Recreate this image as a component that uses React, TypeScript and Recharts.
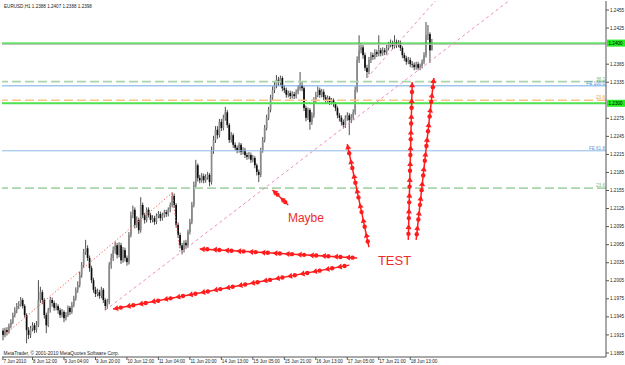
import React from 'react';
import { ComposedChart, Bar, XAxis, YAxis, ReferenceLine, ReferenceDot } from 'recharts';

// EURUSD H1, 7-18 Jun 2010, prices in pips (1/10000)
const FIRST_OPEN = 11922;
const closes = [
  11915, 11923, 11920, 11930, 11936, 11948, 11956, 11963, 11966, 11973,
  11963, 11948, 11923, 11915, 11926, 11931, 11923, 11931, 11973, 11986,
  11973, 11948, 11931, 11956, 11973, 11968, 11960, 11963, 11956, 11948,
  11953, 11943, 11948, 11960, 11953, 11965, 11976, 11990, 11998, 12015,
  12031, 12053, 12059, 12043, 12026, 12006, 11990, 11983, 11986, 11980,
  11990, 11973, 11963, 11970, 12031, 12043, 12056, 12064, 12048, 12064,
  12039, 12056, 12043, 12036, 12081, 12114, 12123, 12098, 12106, 12089,
  12131, 12114, 12106, 12123, 12114, 12106, 12109, 12103, 12113, 12116,
  12109, 12114, 12119, 12116, 12123, 12131, 12146, 12131, 12098, 12081,
  12064, 12056, 12068, 12064, 12086, 12103, 12131, 12164, 12197, 12176,
  12172, 12179, 12172, 12177, 12181, 12169, 12222, 12239, 12256, 12247,
  12269, 12259, 12276, 12285, 12264, 12239, 12247, 12231, 12226, 12222,
  12231, 12219, 12222, 12214, 12211, 12214, 12206, 12209, 12197, 12186,
  12181, 12222, 12239, 12259, 12276, 12289, 12309, 12322, 12330, 12339,
  12335, 12342, 12325, 12322, 12314, 12317, 12312, 12315, 12312, 12319,
  12325, 12330, 12325, 12292, 12276, 12289, 12269, 12280, 12305, 12314,
  12322, 12314, 12319, 12310, 12305, 12309, 12302, 12305, 12299, 12292,
  12280, 12276, 12269, 12264, 12276, 12280, 12272, 12277, 12285, 12322,
  12372, 12388, 12393, 12380, 12359, 12352, 12372, 12380, 12377, 12385,
  12382, 12388, 12383, 12388, 12385, 12392, 12397, 12400, 12395, 12402,
  12397, 12400, 12392, 12380, 12375, 12369, 12372, 12365, 12364, 12360,
  12365, 12359, 12362, 12369, 12380, 12413, 12415, 12388, 12398,
];
const highs = [
  11926, 11927, 11928, 11934, 11941, 11952, 11961, 11968, 11971, 11978,
  11976, 11966, 11951, 11928, 11930, 11936, 11935, 11938, 12006, 11995,
  11990, 11976, 11952, 11960, 11978, 11977, 11972, 11968, 11966, 11960,
  11958, 11956, 11953, 11964, 11963, 11970, 11980, 11994, 12004, 12020,
  12036, 12058, 12073, 12064, 12047, 12030, 12010, 11995, 11992, 11990,
  11995, 11993, 11976, 11975, 12036, 12050, 12062, 12070, 12068, 12069,
  12068, 12061, 12060, 12047, 12086, 12120, 12130, 12127, 12112, 12110,
  12144, 12135, 12118, 12127, 12127, 12118, 12114, 12113, 12117, 12121,
  12120, 12118, 12123, 12123, 12127, 12135, 12152, 12150, 12134, 12102,
  12085, 12068, 12072, 12073, 12090, 12108, 12136, 12170, 12206, 12200,
  12181, 12184, 12183, 12182, 12186, 12184, 12228, 12246, 12262, 12262,
  12274, 12274, 12281, 12294, 12289, 12267, 12252, 12250, 12235, 12230,
  12235, 12234, 12227, 12226, 12218, 12219, 12218, 12214, 12212, 12200,
  12190, 12226, 12244, 12264, 12281, 12294, 12314, 12328, 12336, 12347,
  12344, 12346, 12345, 12330, 12326, 12321, 12321, 12320, 12319, 12323,
  12330, 12352, 12336, 12328, 12296, 12293, 12292, 12285, 12310, 12319,
  12328, 12326, 12324, 12323, 12314, 12313, 12312, 12309, 12308, 12302,
  12295, 12284, 12280, 12273, 12280, 12285, 12284, 12282, 12290, 12328,
  12378, 12413, 12400, 12397, 12384, 12364, 12377, 12385, 12384, 12390,
  12389, 12413, 12392, 12393, 12392, 12397, 12402, 12406, 12404, 12413,
  12406, 12405, 12404, 12395, 12384, 12379, 12377, 12376, 12370, 12368,
  12369, 12369, 12366, 12373, 12385, 12435, 12430, 12418, 12407,
];
const lows = [
  11906, 11911, 11914, 11917, 11926, 11933, 11944, 11951, 11958, 11962,
  11959, 11944, 11901, 11908, 11910, 11921, 11918, 11919, 11928, 11968,
  11966, 11942, 11918, 11928, 11952, 11962, 11955, 11956, 11950, 11943,
  11944, 11936, 11939, 11945, 11948, 11950, 11961, 11972, 11985, 11994,
  12010, 12027, 12048, 12038, 12020, 12001, 11985, 11978, 11979, 11975,
  11976, 11968, 11956, 11958, 11966, 12025, 12038, 12050, 12042, 12044,
  12033, 12035, 12037, 12030, 12032, 12077, 12109, 12092, 12093, 12083,
  12085, 12109, 12100, 12102, 12110, 12101, 12102, 12098, 12099, 12109,
  12104, 12105, 12110, 12111, 12112, 12119, 12127, 12126, 12093, 12076,
  12059, 12049, 12052, 12058, 12060, 12082, 12099, 12127, 12160, 12170,
  12167, 12168, 12167, 12168, 12173, 12162, 12165, 12216, 12234, 12241,
  12243, 12254, 12255, 12271, 12259, 12234, 12235, 12226, 12221, 12217,
  12218, 12214, 12215, 12209, 12206, 12207, 12201, 12202, 12192, 12180,
  12169, 12177, 12218, 12235, 12255, 12272, 12285, 12305, 12317, 12325,
  12329, 12330, 12320, 12317, 12309, 12310, 12307, 12308, 12307, 12308,
  12315, 12321, 12320, 12287, 12270, 12272, 12256, 12264, 12276, 12301,
  12310, 12309, 12310, 12305, 12300, 12301, 12297, 12298, 12294, 12287,
  12275, 12270, 12263, 12258, 12259, 12271, 12247, 12267, 12272, 12281,
  12318, 12367, 12383, 12374, 12354, 12342, 12348, 12367, 12372, 12373,
  12377, 12378, 12378, 12379, 12380, 12381, 12388, 12393, 12390, 12391,
  12392, 12393, 12387, 12375, 12370, 12364, 12365, 12360, 12359, 12355,
  12356, 12355, 12355, 12358, 12365, 12376, 12405, 12367, 12388,
];
const SLOTS = 307; // visible bar slots incl. empty space on the right

const timeTicks = [0, 15, 31, 47, 63, 79, 95, 111, 127, 143, 159, 175, 191, 207];
const timeLabels = [
  '7 Jun 2010', '8 Jun 12:00', '9 Jun 04:00', '9 Jun 20:00', '10 Jun 12:00', '11 Jun 04:00',
  '11 Jun 20:00', '14 Jun 13:00', '15 Jun 05:00', '15 Jun 21:00', '16 Jun 13:00',
  '17 Jun 05:00', '17 Jun 21:00', '18 Jun 13:00',
];
// 1.2395 and 1.2305 sit under the price boxes, so they are not shown
const priceTicks = [
  1.2455, 1.2425, 1.2365, 1.2335, 1.2275, 1.2245, 1.2215, 1.2185,
  1.2155, 1.2125, 1.2095, 1.2065, 1.2035, 1.2005, 1.1975, 1.1945, 1.1915, 1.1885,
];

// horizontal levels
const levelPrices = [1.24, 1.2398, 1.2336, 1.2329, 1.2305, 1.23, 1.2221, 1.2159];
const levelNames = ['', '', '38.2', 'FE 100.0', '23.6', '', 'FE 61.8', '23.6'];
const levelBoxes = ['1.2400', '', '', '', '', '1.2300', '', ''];
const LEVEL_STYLE = [
  { stroke: '#22dd22', w: 1.2, dash: undefined, text: '' },
  { stroke: '#b8b8b8', w: 1, dash: undefined, text: '' },
  { stroke: '#a9d6a9', w: 1.6, dash: '9 4', text: '#78bb78' },
  { stroke: '#71aae6', w: 1, dash: undefined, text: '#4f8fd6' },
  { stroke: '#f7c486', w: 1.6, dash: '9 4', text: '#f0a040' },
  { stroke: '#4fe04f', w: 2, dash: undefined, text: '' },
  { stroke: '#8cb9e8', w: 1, dash: undefined, text: '#5f96d8' },
  { stroke: '#a9d6a9', w: 1.6, dash: '9 4', text: '#78bb78' },
];

// trend lines: [start, end] bar index and price
const trendIdx = [[52, 257], [185, 220], [0, 86], [86, 90]];
const trendPrice = [[1.1956, 1.247], [1.2342, 1.2471], [1.1913, 1.2151], [1.2151, 1.2051]];
const TREND_STYLE = [
  { stroke: '#f088c8', dash: '3 3' },
  { stroke: '#f088c8', dash: '3 3' },
  { stroke: '#ff6a6a', dash: '1.4 2' },
  { stroke: '#ff6a6a', dash: '1.4 2' },
];

// red arrow chains: tail -> head
const chainTailIdx = [180, 176, 186, 206, 210, 145];
const chainTailPrice = [1.2043, 1.2031, 1.2061, 1.2073, 1.2073, 1.2131];
const chainHeadIdx = [100, 56, 175, 208, 219, 137];
const chainHeadPrice = [1.2058, 1.1958, 1.2232, 1.2335, 1.2342, 1.2156];
const CHAIN_STEP = [12.5, 12.5, 15, 15.5, 15.5, 11];

const notes = ['Maybe', 'TEST'];
const noteIdx = [154, 199];
const notePrice = [1.2109, 1.2038];

const RED = '#ff1c1c';
const FONT = '"Liberation Sans", Arial, sans-serif';
const px = (v: number) => v / 10000;

const rows = Array.from({ length: SLOTS }, (_, i) => {
  if (i >= closes.length) return { i, range: null };
  const o = i === 0 ? FIRST_OPEN : closes[i - 1];
  return { i, o: px(o), h: px(highs[i]), l: px(lows[i]), c: px(closes[i]), range: [px(lows[i]), px(highs[i])] };
});

function Candle(props: any) {
  const { x, y, width, height, payload } = props;
  if (!payload || payload.o == null || !isFinite(y)) return <g />;
  const { o, h, l, c } = payload;
  const top = Math.min(y, y + height);
  const bot = Math.max(y, y + height);
  const yOf = (p: number) => (h === l ? top : top + ((h - p) / (h - l)) * (bot - top));
  const cx = x + width / 2;
  const y1 = yOf(Math.max(o, c));
  const y2 = yOf(Math.min(o, c));
  return (
    <g>
      <line x1={cx} x2={cx} y1={top} y2={bot} stroke="#3a3a3a" strokeWidth={0.9} />
      <rect x={cx - 0.85} y={y1} width={1.7} height={Math.max(0.6, y2 - y1)} fill={c >= o ? '#8a8a8a' : '#0c0c0c'} />
    </g>
  );
}

function PriceTick({ x, y, payload }: any) {
  return (
    <text x={x} y={y + 1.6} fontSize={4.6} fill="#222" fontFamily={FONT}>
      {Number(payload.value).toFixed(4)}
    </text>
  );
}

function TimeTick({ x, y, payload }: any) {
  const k = timeTicks.indexOf(payload.value);
  return (
    <text x={x + 0.5} y={y + 3.3} fontSize={4.6} fill="#222" fontFamily={FONT}>
      {timeLabels[k]}
    </text>
  );
}

function levelLabel(k: number) {
  return (p: any) => {
    const vb = p.viewBox || {};
    const right = (vb.x || 0) + (vb.width || 0);
    const y = vb.y || 0;
    return (
      <g>
        {levelNames[k] && (
          <text x={right - 1} y={y - 1} fontSize={4.6} textAnchor="end" fill={LEVEL_STYLE[k].text} fontFamily={FONT}>
            {levelNames[k]}
          </text>
        )}
        {levelBoxes[k] && (
          <g>
            <rect x={right + 1} y={y - 3.5} width={18} height={7} fill="#22ee22" />
            <text x={right + 2.5} y={y + 1.6} fontSize={4.6} fill="#000" fontFamily={FONT}>{levelBoxes[k]}</text>
          </g>
        )}
      </g>
    );
  };
}

function chainShape(step: number) {
  return (p: any) => {
    const { x1, y1, x2, y2 } = p;
    const dx = x2 - x1;
    const dy = y2 - y1;
    const len = Math.hypot(dx, dy) || 1;
    const ux = dx / len;
    const uy = dy / len;
    const nx = -uy;
    const ny = ux;
    const n = Math.max(1, Math.round(len / step));
    const s = len / n;
    const parts: any[] = [];
    for (let k = 0; k < n; k++) {
      const tx = x2 - ux * s * k;
      const ty = y2 - uy * s * k;
      const bx = tx - ux * 5;
      const by = ty - uy * 5;
      parts.push(
        <polygon key={'a' + k} fill={RED}
          points={`${tx},${ty} ${bx + nx * 3},${by + ny * 3} ${bx - nx * 3},${by - ny * 3}`} />,
      );
      parts.push(<circle key={'d' + k} cx={tx - ux * s * 0.62} cy={ty - uy * s * 0.62} r={2.2} fill={RED} />);
    }
    return (
      <g>
        <line x1={x1} y1={y1} x2={x2} y2={y2} stroke={RED} strokeWidth={1.5} />
        {parts}
      </g>
    );
  };
}

function noteShape(k: number) {
  return (p: any) => (
    <text x={p.cx} y={p.cy} textAnchor="middle" dominantBaseline="central" fontSize={k === 0 ? 12 : 13}
      fill="#f02a2a" fontFamily={FONT}>
      {notes[k]}
    </text>
  );
}

export default function App() {
  return (
    <div style={{ position: 'absolute', left: 0, top: 0, width: 625, height: 365, background: '#fff' }}>
      <ComposedChart width={625} height={365} data={rows} margin={{ top: 1, right: 0, bottom: 0, left: 2 }} barCategoryGap={0}>
        <XAxis dataKey="i" ticks={timeTicks} interval={0} tick={<TimeTick />} tickSize={3} tickMargin={0}
          height={8} axisLine={{ stroke: '#555' }} tickLine={{ stroke: '#555' }} />
        <XAxis xAxisId="t" dataKey="i" orientation="top" height={0} tick={false} tickLine={false} axisLine={{ stroke: '#555' }} />
        <YAxis orientation="right" domain={[1.18783, 1.247]} allowDataOverflow ticks={priceTicks} interval={0}
          tick={<PriceTick />} tickSize={3} tickMargin={1} width={19} axisLine={{ stroke: '#555' }} tickLine={{ stroke: '#555' }} />
        <YAxis yAxisId="l" orientation="left" width={0} tick={false} tickLine={false} axisLine={{ stroke: '#555' }} />

        {levelPrices.map((v, k) => (
          <ReferenceLine key={'lv' + k} y={v} stroke={LEVEL_STYLE[k].stroke} strokeWidth={LEVEL_STYLE[k].w}
            strokeDasharray={LEVEL_STYLE[k].dash} label={levelLabel(k)} />
        ))}

        <Bar dataKey="range" shape={Candle} isAnimationActive={false} />

        {trendIdx.map((t, k) => (
          <ReferenceLine key={'tr' + k} ifOverflow="hidden"
            segment={[{ x: t[0], y: trendPrice[k][0] }, { x: t[1], y: trendPrice[k][1] }]}
            stroke={TREND_STYLE[k].stroke} strokeDasharray={TREND_STYLE[k].dash} strokeWidth={1} />
        ))}

        {chainTailIdx.map((t, k) => (
          <ReferenceLine key={'ch' + k} ifOverflow="hidden"
            segment={[{ x: t, y: chainTailPrice[k] }, { x: chainHeadIdx[k], y: chainHeadPrice[k] }]}
            shape={chainShape(CHAIN_STEP[k])} />
        ))}

        {notes.map((n, k) => (
          <ReferenceDot key={n} x={noteIdx[k]} y={notePrice[k]} r={0} shape={noteShape(k)} />
        ))}
      </ComposedChart>
      <svg width={625} height={365} style={{ position: 'absolute', left: 0, top: 0, pointerEvents: 'none' }}>
        <text x={4} y={7.6} fontSize={4.6} fill="#222" fontFamily={FONT}>EURUSD,H1 1.2388 1.2407 1.2388 1.2398</text>
        <text x={3.5} y={354.5} fontSize={4.8} fill="#222" fontFamily={FONT}>MetaTrader, © 2001-2010 MetaQuotes Software Corp.</text>
      </svg>
    </div>
  );
}
